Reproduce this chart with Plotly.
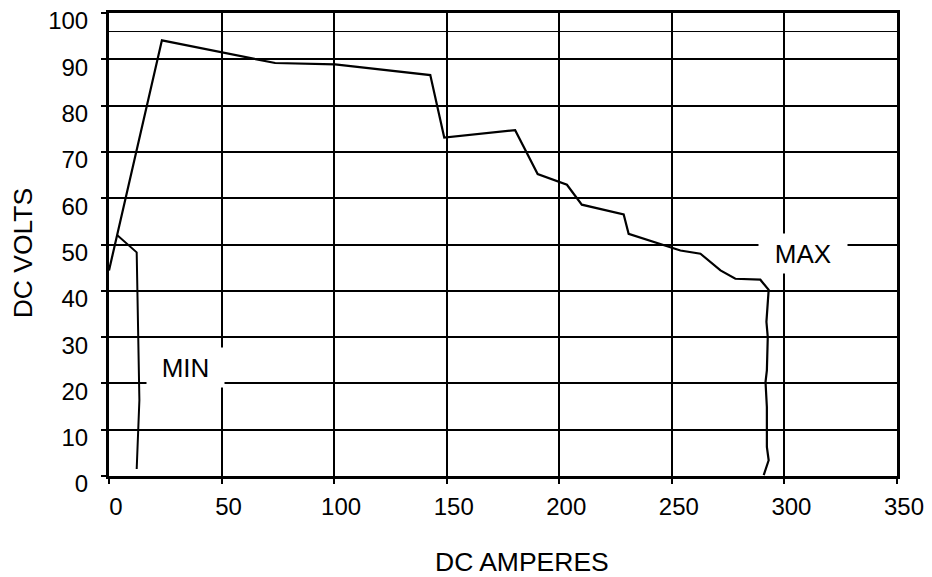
import plotly.graph_objects as go

# MAX curve (DC amperes, DC volts)
max_amps = [0, 23.5, 73.8, 100.4, 142.7, 148.9, 180.4, 190.4, 203.4, 210.0, 228.6, 230.8,
            253.8, 262.7, 271.6, 278.2, 289.3, 293.0, 292.0, 292.6, 292.2, 291.6, 292.2,
            292.2, 293.0, 290.8]
max_volts = [44.4, 94.1, 89.2, 88.9, 86.6, 73.1, 74.7, 65.2, 62.9, 58.6, 56.5, 52.3,
             48.7, 48.0, 44.4, 42.6, 42.4, 40.2, 33.3, 30.0, 22.8, 20.3, 14.9,
             6.3, 3.4, 0.2]

# MIN curve
min_amps = [3.7, 12.3, 13.5, 12.3]
min_volts = [52.0, 48.3, 16.4, 1.5]

# thin reference line
ref_volts = 96

x_ticks = [0, 50, 100, 150, 200, 250, 300, 350]
y_ticks = [0, 10, 20, 30, 40, 50, 60, 70, 80, 90, 100]

x_title = "DC AMPERES"
y_title = "DC VOLTS"

FONT = "Liberation Sans, Arial, Helvetica, sans-serif"

fig = go.Figure()
fig.add_trace(go.Scatter(x=max_amps, y=max_volts, mode="lines",
                         line=dict(color="black", width=2.2), showlegend=False))
fig.add_trace(go.Scatter(x=min_amps, y=min_volts, mode="lines",
                         line=dict(color="black", width=2), showlegend=False))

fig.add_shape(type="line", xref="x", yref="y", x0=x_ticks[0], x1=x_ticks[-1],
              y0=ref_volts, y1=ref_volts, line=dict(color="black", width=1), layer="below")

fig.add_annotation(x=34, y=23.4, xref="x", yref="y", text="MIN", showarrow=False,
                   font=dict(family=FONT, size=26, color="black"), bgcolor="white",
                   width=75, height=37)
fig.add_annotation(x=308.4, y=48.1, xref="x", yref="y", text="MAX", showarrow=False,
                   font=dict(family=FONT, size=26, color="black"), bgcolor="white",
                   width=86, height=37)

# axis titles
fig.add_annotation(x=0.5237, y=-0.1868, xref="paper", yref="paper", text=x_title,
                   showarrow=False, xanchor="center", yanchor="middle",
                   font=dict(family=FONT, size=26.5, color="black"))
fig.add_annotation(x=-0.1091, y=0.481, xref="paper", yref="paper", text=y_title,
                   showarrow=False, xanchor="center", yanchor="middle", textangle=-90,
                   font=dict(family=FONT, size=26.5, color="black"))

fig.update_layout(
    width=924, height=569,
    margin=dict(l=101, r=35, t=5, b=101),
    plot_bgcolor="white", paper_bgcolor="white",
    font=dict(family=FONT, color="black"),
)
fig.update_xaxes(range=[0, 350], tickvals=x_ticks, ticktext=[str(v) for v in x_ticks],
                 showgrid=True, gridcolor="black", gridwidth=1.5,
                 showline=True, linecolor="black", linewidth=3, mirror=True,
                 ticks="outside", ticklen=5, tickwidth=1.5, tickcolor="black",
                 tickfont=dict(family=FONT, size=24), ticklabelshift=7, ticklabelstandoff=2,
                 ticklabeloverflow="allow", automargin=False, zeroline=False)
fig.update_yaxes(range=[0, 100], tickvals=y_ticks, ticktext=[str(v) for v in y_ticks],
                 showgrid=True, gridcolor="black", gridwidth=1.5,
                 showline=True, linecolor="black", linewidth=3, mirror=True,
                 ticks="outside", ticklen=5, tickwidth=1.5, tickcolor="black",
                 tickfont=dict(family=FONT, size=24), ticklabelshift=8, ticklabelstandoff=8,
                 ticklabeloverflow="allow", automargin=False, zeroline=False)

fig.write_html("out.html")
